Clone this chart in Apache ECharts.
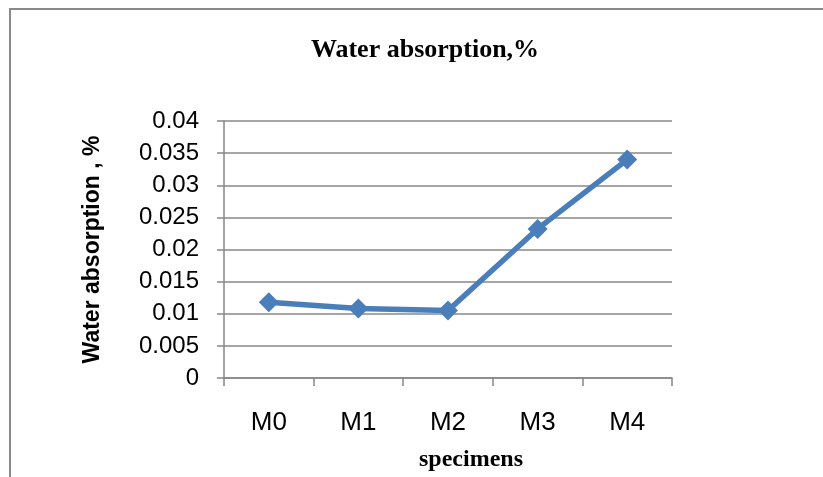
<!DOCTYPE html>
<html>
<head>
<meta charset="utf-8">
<script src="https://cdn.jsdelivr.net/npm/echarts@6/dist/echarts.min.js"></script>
<style>
  html, body { margin: 0; padding: 0; background: #fff; }
  #chart { width: 823px; height: 477px; }
</style>
</head>
<body>
<div id="chart"></div>
<script>
const specimens = ["M0", "M1", "M2", "M3", "M4"];
const waterAbsorption = [0.0118, 0.0108, 0.0105, 0.0232, 0.034];

const chart = echarts.init(document.getElementById("chart"));
const sans = "'Liberation Sans', Arial, sans-serif";
const serif = "'Liberation Serif', 'Times New Roman', serif";

chart.setOption({
  animation: false,
  backgroundColor: "#fff",
  title: {
    text: "Water absorption,%",
    left: 420,
    top: 32,
    textAlign: "center",
    textStyle: { fontFamily: serif, fontWeight: "bold", fontSize: 26, color: "#000" }
  },
  graphic: [{
    type: "rect",
    shape: { x: 10, y: 9, width: 900, height: 600 },
    style: { fill: null, stroke: "#8a8a8a", lineWidth: 2 },
    silent: true
  }],
  grid: { left: 224, right: 151, top: 121, bottom: 93 },
  xAxis: {
    type: "category",
    data: specimens,
    name: "specimens",
    nameLocation: "middle",
    nameGap: 70,
    nameTextStyle: { fontFamily: serif, fontWeight: "bold", fontSize: 24, color: "#000", padding: [0, 0, 0, 46] },
    axisLine: { lineStyle: { color: "#868686", width: 1.5 } },
    axisTick: { show: true, alignWithLabel: false, length: 8, lineStyle: { color: "#868686", width: 1.5 } },
    axisLabel: { margin: 32, fontFamily: sans, fontSize: 26, color: "#000" }
  },
  yAxis: {
    type: "value",
    min: 0,
    max: 0.04,
    interval: 0.005,
    name: "Water absorption , %",
    nameLocation: "middle",
    nameGap: 120,
    nameTextStyle: { fontFamily: sans, fontWeight: "bold", fontSize: 23, color: "#000" },
    axisLine: { show: true, lineStyle: { color: "#868686", width: 1.5 } },
    axisTick: { show: true, length: 7, lineStyle: { color: "#868686", width: 1.5 } },
    axisLabel: { margin: 25, fontFamily: sans, fontSize: 24, color: "#000" },
    splitLine: { lineStyle: { color: "#888", width: 1.5 } }
  },
  series: [{
    type: "line",
    data: waterAbsorption,
    symbol: "diamond",
    symbolSize: 20,
    itemStyle: { color: "#4a7ebb" },
    lineStyle: { color: "#4a7ebb", width: 5.5 }
  }]
});
</script>
</body>
</html>
